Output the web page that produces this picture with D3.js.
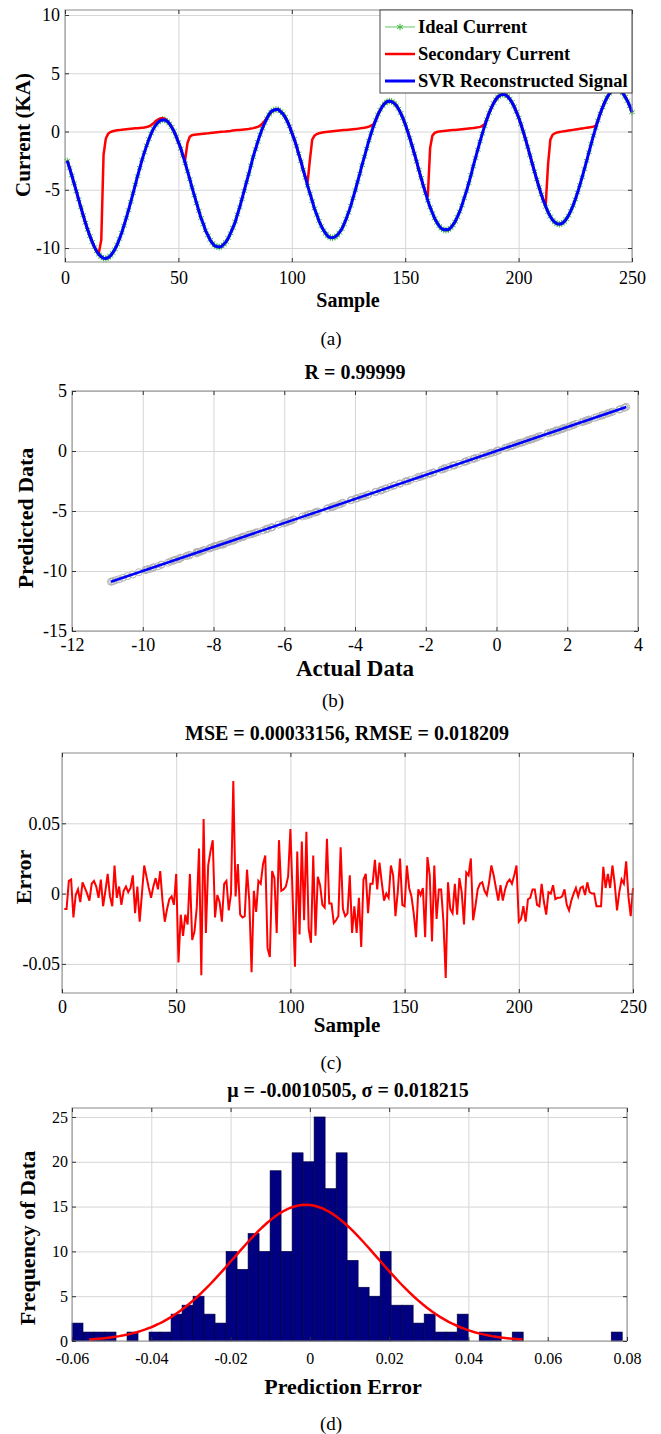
<!DOCTYPE html>
<html>
<head>
<meta charset="utf-8">
<script src="https://cdn.jsdelivr.net/npm/d3@7"></script>
<style>
  body { margin: 0; background: #fff; }
  text { font-family: "Liberation Serif", "Times New Roman", serif; fill: #000; }
</style>
</head>
<body>
<div id="chart"></div>
<script>
// ---- data ----
const idealCurrent = [
  -2.52,-3.13,-3.77,-4.44,-5.13,-5.82,-6.51,-7.18,-7.82,-8.43,
  -8.98,-9.48,-9.92,-10.28,-10.56,-10.76,-10.87,-10.90,-10.83,-10.67,
  -10.43,-10.11,-9.70,-9.22,-8.68,-8.08,-7.43,-6.75,-6.03,-5.30,
  -4.56,-3.83,-3.12,-2.43,-1.79,-1.19,-0.65,-0.17,0.24,0.56,
  0.80,0.95,1.02,0.99,0.88,0.68,0.39,0.03,-0.41,-0.91,
  -1.47,-2.08,-2.73,-3.41,-4.10,-4.79,-5.49,-6.16,-6.81,-7.42,
  -7.98,-8.48,-8.92,-9.29,-9.57,-9.78,-9.89,-9.92,-9.86,-9.70,
  -9.47,-9.14,-8.74,-8.27,-7.73,-7.13,-6.49,-5.81,-5.10,-4.37,
  -3.64,-2.91,-2.20,-1.52,-0.88,-0.28,0.26,0.73,1.13,1.45,
  1.69,1.84,1.90,1.87,1.75,1.55,1.26,0.89,0.45,-0.06,
  -0.62,-1.24,-1.89,-2.56,-3.26,-3.96,-4.65,-5.33,-5.98,-6.60,
  -7.16,-7.67,-8.11,-8.48,-8.77,-8.98,-9.10,-9.13,-9.07,-8.92,
  -8.68,-8.36,-7.97,-7.50,-6.96,-6.37,-5.73,-5.05,-4.34,-3.62,
  -2.89,-2.16,-1.46,-0.78,-0.14,0.46,0.99,1.46,1.86,2.18,
  2.41,2.56,2.61,2.58,2.46,2.25,1.96,1.59,1.14,0.64,
  0.07,-0.55,-1.20,-1.88,-2.58,-3.28,-3.98,-4.66,-5.31,-5.93,
  -6.50,-7.01,-7.45,-7.82,-8.12,-8.33,-8.45,-8.48,-8.43,-8.28,
  -8.05,-7.73,-7.34,-6.87,-6.34,-5.74,-5.11,-4.43,-3.72,-3.00,
  -2.28,-1.56,-0.85,-0.18,0.46,1.05,1.59,2.05,2.45,2.76,
  2.99,3.14,3.19,3.16,3.04,2.83,2.53,2.16,1.71,1.20,
  0.63,0.01,-0.64,-1.33,-2.03,-2.73,-3.43,-4.12,-4.77,-5.39,
  -5.96,-6.47,-6.92,-7.29,-7.59,-7.80,-7.92,-7.96,-7.90,-7.76,
  -7.53,-7.22,-6.82,-6.36,-5.83,-5.24,-4.60,-3.93,-3.23,-2.51,
  -1.78,-1.06,-0.36,0.31,0.95,1.54,2.07,2.53,2.93,3.24,
  3.47,3.61,3.67,3.63,3.50,3.29,2.99,2.62,2.17,1.66
];

const secondaryCurrent = [
  -2.52,-3.13,-3.77,-4.44,-5.13,-5.82,-6.51,-7.18,-7.82,-8.43,
  -8.98,-9.48,-9.92,-10.28,-10.35,-9.30,-2.00,-0.60,-0.20,-0.05,
  0.02,0.06,0.10,0.12,0.15,0.17,0.19,0.21,0.23,0.25,
  0.27,0.28,0.30,0.32,0.34,0.38,0.45,0.55,0.70,0.90,
  1.03,1.12,1.15,1.08,0.92,0.68,0.39,0.03,-0.41,-0.91,
  -1.47,-2.08,-2.40,-1.00,-0.45,-0.32,-0.28,-0.26,-0.24,-0.22,
  -0.20,-0.18,-0.16,-0.13,-0.11,-0.09,-0.07,-0.05,-0.03,-0.01,
  0.01,0.03,0.05,0.08,0.10,0.12,0.14,0.16,0.18,0.20,
  0.22,0.25,0.29,0.34,0.40,0.50,0.66,0.90,1.15,1.45,
  1.69,1.84,1.90,1.87,1.75,1.55,1.26,0.89,0.45,-0.06,
  -0.62,-1.24,-1.89,-2.56,-3.26,-3.96,-4.30,-2.40,-0.70,-0.35,
  -0.22,-0.15,-0.10,-0.07,-0.04,-0.02,0.00,0.02,0.04,0.06,
  0.08,0.10,0.12,0.14,0.16,0.18,0.20,0.22,0.24,0.27,
  0.30,0.33,0.37,0.42,0.50,0.62,0.99,1.46,1.86,2.18,
  2.41,2.56,2.61,2.58,2.46,2.25,1.96,1.59,1.14,0.64,
  0.07,-0.55,-1.20,-1.88,-2.58,-3.28,-3.98,-4.66,-5.31,-5.45,
  -1.40,-0.35,-0.12,-0.04,0.00,0.02,0.04,0.06,0.08,0.10,
  0.12,0.14,0.16,0.18,0.20,0.22,0.24,0.26,0.28,0.30,
  0.33,0.36,0.40,0.47,0.62,1.05,1.59,2.05,2.45,2.76,
  2.99,3.14,3.19,3.16,3.04,2.83,2.53,2.16,1.71,1.20,
  0.63,0.01,-0.64,-1.33,-2.03,-2.73,-3.43,-4.12,-4.77,-5.39,
  -5.96,-6.15,-2.80,-0.70,-0.28,-0.15,-0.08,-0.04,-0.01,0.02,
  0.05,0.08,0.11,0.14,0.17,0.20,0.23,0.26,0.29,0.32,
  0.35,0.38,0.42,0.50,0.95,1.54,2.07,2.53,2.93,3.24,
  3.47,3.61,3.67,3.63,3.50,3.29,2.99,2.62,2.17,1.66
];

// reconstruction error per sample (panel c)
const svrError = [
  -0.011,-0.011,0.009,0.010,-0.017,-0.001,0.003,-0.006,0.008,0.004,
  0.000,-0.005,0.007,0.009,0.005,-0.003,0.010,-0.009,0.002,0.014,
  -0.002,-0.009,0.020,-0.003,0.005,-0.008,0.002,0.005,0.001,0.004,
  0.013,-0.014,0.005,-0.020,0.000,0.020,0.012,0.004,-0.003,0.005,
  0.011,0.003,0.016,-0.005,-0.020,-0.011,-0.004,-0.002,-0.008,0.014,
  -0.049,-0.015,-0.030,-0.015,-0.022,0.014,-0.033,-0.027,-0.010,0.032,
  -0.058,0.053,-0.028,0.020,0.030,0.038,-0.017,-0.001,-0.006,-0.020,
  0.007,0.009,-0.012,0.000,0.080,-0.002,0.021,-0.015,-0.017,-0.016,
  0.017,-0.005,-0.056,0.002,-0.013,0.009,0.007,0.021,0.027,-0.039,
  -0.045,0.016,0.011,-0.028,0.038,0.002,0.003,0.005,0.012,0.046,
  -0.003,-0.052,0.030,-0.029,0.037,-0.019,0.044,-0.025,-0.035,0.027,
  -0.030,0.012,0.006,-0.008,-0.010,0.039,-0.007,-0.007,-0.021,-0.019,
  -0.016,0.033,-0.011,-0.016,-0.014,0.013,-0.028,-0.009,-0.028,-0.003,
  -0.038,0.010,0.014,-0.014,0.007,0.007,0.024,0.003,0.022,0.008,
  -0.005,0.000,-0.003,0.020,0.013,-0.016,0.001,0.025,-0.008,-0.009,
  0.020,0.004,-0.002,-0.014,-0.031,0.003,-0.001,0.004,-0.031,0.026,
  0.013,-0.034,0.020,-0.018,0.003,0.003,-0.020,-0.060,0.008,-0.011,
  -0.014,0.007,-0.015,0.011,0.001,-0.022,0.015,0.013,0.025,-0.019,
  -0.009,0.003,0.007,0.008,0.002,-0.001,0.008,0.020,0.013,0.004,
  -0.005,0.006,-0.005,0.003,0.008,0.010,0.007,0.013,0.020,-0.020,
  -0.018,-0.009,-0.020,-0.004,-0.003,0.003,0.003,-0.008,-0.009,0.007,
  -0.006,-0.015,0.001,0.000,0.006,-0.004,-0.003,-0.003,-0.002,0.003,
  -0.008,-0.012,-0.005,0.000,0.004,-0.002,0.004,0.005,-0.001,0.008,
  0.001,0.000,0.000,-0.009,-0.009,-0.009,0.019,0.004,0.014,0.004,
  0.020,0.007,-0.012,0.001,0.010,0.007,0.023,-0.002,-0.016,0.004
];

// histogram of the error (panel d), 50 bins between histRange
const histCounts = [
  2,1,1,1,0,1,0,1,1,3,
  4,5,3,2,10,8,12,10,19,10,
  21,20,25,17,21,9,6,5,10,4,
  4,2,3,1,1,3,0,1,1,0,
  1,0,0,0,0,0,0,0,0,1
];
const histRange = [-0.0600, 0.0788];
const errMu = -0.0010505;
const errSigma = 0.018215;

const ticksA = { x: [0, 50, 100, 150, 200, 250], y: [-10, -5, 0, 5, 10] };
const ticksB = { x: [-12, -10, -8, -6, -4, -2, 0, 2, 4], y: [-15, -10, -5, 0, 5] };
const ticksC = { x: [0, 50, 100, 150, 200, 250], y: [-0.05, 0, 0.05] };
const ticksD = { x: [-0.06, -0.04, -0.02, 0, 0.02, 0.04, 0.06, 0.08], y: [0, 5, 10, 15, 20, 25] };

const legendItems = ["Ideal Current", "Secondary Current", "SVR Reconstructed Signal"];

// ---- drawing ----
const W = 661, H = 1434;
const gridColor = "#d6d6d6";
const boxColor = "#8a8a8a";
const green = "#3bb53b";
const fmt = d => String(+d.toFixed(4));

const svg = d3.select("#chart").append("svg")
  .attr("width", W).attr("height", H);
svg.append("rect").attr("width", W).attr("height", H).attr("fill", "#fff");

function makePanel(box, xDom, yDom, ticks, padX, padY, tickFont) {
  const x = d3.scaleLinear().domain(xDom).range([box.left, box.right]);
  const y = d3.scaleLinear().domain(yDom).range([box.bottom, box.top]);
  const w = box.right - box.left, h = box.bottom - box.top;

  const grid = svg.append("g");
  grid.append("g").attr("transform", `translate(0,${box.bottom})`)
    .call(d3.axisBottom(x).tickValues(ticks.x).tickSize(-h).tickFormat(""))
    .call(g => g.select(".domain").remove())
    .selectAll("line").attr("stroke", gridColor);
  grid.append("g").attr("transform", `translate(${box.left},0)`)
    .call(d3.axisLeft(y).tickValues(ticks.y).tickSize(-w).tickFormat(""))
    .call(g => g.select(".domain").remove())
    .selectAll("line").attr("stroke", gridColor);

  const marks = svg.append("g");

  function finish() {
    const top = svg.append("g");
    top.append("rect")
      .attr("x", box.left).attr("y", box.top)
      .attr("width", w).attr("height", h)
      .attr("fill", "none").attr("stroke", boxColor);

    const styleAxis = g => {
      g.select(".domain").remove();
      g.selectAll("line").attr("stroke", "#333");
      g.selectAll("text").attr("font-size", tickFont).attr("fill", "#000");
    };
    top.append("g").attr("transform", `translate(0,${box.bottom})`)
      .call(d3.axisBottom(x).tickValues(ticks.x).tickSize(-4).tickPadding(padX).tickFormat(fmt))
      .call(styleAxis);
    top.append("g").attr("transform", `translate(0,${box.top})`)
      .call(d3.axisTop(x).tickValues(ticks.x).tickSize(-4).tickFormat(""))
      .call(styleAxis);
    top.append("g").attr("transform", `translate(${box.left},0)`)
      .call(d3.axisLeft(y).tickValues(ticks.y).tickSize(-4).tickPadding(padY).tickFormat(fmt))
      .call(styleAxis);
    top.append("g").attr("transform", `translate(${box.right},0)`)
      .call(d3.axisRight(y).tickValues(ticks.y).tickSize(-4).tickFormat(""))
      .call(styleAxis);
    return top;
  }
  return { x, y, marks, finish };
}

function label(txt, cx, cy, size, bold, rotate) {
  const t = svg.append("text")
    .attr("text-anchor", "middle")
    .attr("dominant-baseline", "central")
    .attr("font-size", size)
    .attr("font-weight", bold ? "bold" : "normal")
    .text(txt);
  if (rotate) t.attr("transform", `translate(${cx},${cy}) rotate(-90)`);
  else t.attr("x", cx).attr("y", cy);
  return t;
}

const svrSignal = idealCurrent.map((v, i) => v - svrError[i]);
const sampleIdx = idealCurrent.map((v, i) => i + 1);

// ---------- (a) ----------
const pa = makePanel({ left: 65, right: 632, top: 10, bottom: 262 },
  [0, 250], [-11.2, 10.43], ticksA, 9, 5, 18);

const lineA = d3.line().x((d, i) => pa.x(sampleIdx[i])).y(d => pa.y(d));
pa.marks.append("path").datum(idealCurrent).attr("d", lineA)
  .attr("fill", "none").attr("stroke", green).attr("stroke-width", 0.6);
const star = d3.symbol(d3.symbolAsterisk).size(30);
pa.marks.append("g").selectAll("path").data(idealCurrent).join("path")
  .attr("d", star)
  .attr("transform", (d, i) => `translate(${pa.x(sampleIdx[i])},${pa.y(d)})`)
  .attr("fill", "none").attr("stroke", green).attr("stroke-width", 0.9);
pa.marks.append("path").datum(secondaryCurrent).attr("d", lineA)
  .attr("fill", "none").attr("stroke", "#ff0000").attr("stroke-width", 2.5);
pa.marks.append("path").datum(svrSignal).attr("d", lineA)
  .attr("fill", "none").attr("stroke", "#0000ff").attr("stroke-width", 3);
pa.finish();

// legend
const lg = svg.append("g");
lg.append("rect").attr("x", 380).attr("y", 10).attr("width", 252).attr("height", 83)
  .attr("fill", "#fff").attr("stroke", "#444");
const legendStyle = [
  { color: green, width: 0.8, marker: true },
  { color: "#ff0000", width: 2.5 },
  { color: "#0000ff", width: 3 }
];
legendItems.forEach((name, i) => {
  const yy = 27 + i * 27;
  const s = legendStyle[i];
  lg.append("line").attr("x1", 385).attr("x2", 415).attr("y1", yy).attr("y2", yy)
    .attr("stroke", s.color).attr("stroke-width", s.width);
  if (s.marker) {
    lg.append("path").attr("d", d3.symbol(d3.symbolAsterisk).size(30))
      .attr("transform", `translate(400,${yy})`)
      .attr("fill", "none").attr("stroke", s.color).attr("stroke-width", 1);
  }
  lg.append("text").attr("x", 418).attr("y", yy).attr("dominant-baseline", "central")
    .attr("font-size", 18.5).attr("font-weight", "bold").text(name);
});

label("Current (KA)", 23, 135, 21, true, true);
label("Sample", 348, 300, 20, true);
label("(a)", 331, 338, 19, false);

// ---------- (b) ----------
const pb = makePanel({ left: 72, right: 638, top: 391, bottom: 631 },
  [-12, 4], [-15, 5], ticksB, 7, 5, 18);
pb.marks.append("g").selectAll("circle").data(idealCurrent).join("circle")
  .attr("cx", d => pb.x(d))
  .attr("cy", (d, i) => pb.y(svrSignal[i]))
  .attr("r", 3.5)
  .attr("fill", "none").attr("stroke", "#b4b4b4").attr("stroke-width", 1);
const ext = d3.extent(idealCurrent);
pb.marks.append("line")
  .attr("x1", pb.x(ext[0])).attr("y1", pb.y(ext[0]))
  .attr("x2", pb.x(ext[1])).attr("y2", pb.y(ext[1]))
  .attr("stroke", "#0000ff").attr("stroke-width", 2.5);
pb.finish();

label("R = 0.99999", 355, 372, 20, true);
label("Predicted Data", 25, 518, 22, true, true);
label("Actual Data", 355, 668, 23, true);
label("(b)", 333, 700, 19, false);

// ---------- (c) ----------
const pc = makePanel({ left: 62, right: 633, top: 753, bottom: 993 },
  [0, 250], [-0.0707, 0.1], ticksC, 7, 2, 18);
pc.marks.append("path").datum(svrError)
  .attr("d", d3.line().x((d, i) => pc.x(sampleIdx[i])).y(d => pc.y(d)))
  .attr("fill", "none").attr("stroke", "#ff0000").attr("stroke-width", 2);
pc.finish();

label("MSE = 0.00033156, RMSE = 0.018209", 347, 733, 20, true);
label("Error", 23, 877, 22, true, true);
label("Sample", 347, 1025, 21, true);
label("(c)", 331, 1062, 19, false);

// ---------- (d) ----------
const pd = makePanel({ left: 72, right: 627, top: 1108, bottom: 1341 },
  [-0.06, 0.08], [0, 26], ticksD, 12, 4, 16);
const binW = (histRange[1] - histRange[0]) / histCounts.length;
pd.marks.append("g").selectAll("rect").data(histCounts).join("rect")
  .attr("x", (d, i) => pd.x(histRange[0] + i * binW))
  .attr("width", pd.x(binW) - pd.x(0))
  .attr("y", d => pd.y(d))
  .attr("height", d => pd.y(0) - pd.y(d))
  .attr("fill", "#000080")
  .attr("stroke", "#00003a").attr("stroke-width", d => d > 0 ? 0.6 : 0);

// fitted normal curve (mu +/- 3 sigma, scaled to counts)
const nTotal = d3.sum(histCounts);
const fitX = d3.range(101).map(k => errMu - 3 * errSigma + k * 6 * errSigma / 100);
const fitY = fitX.map(v => nTotal * binW / (errSigma * Math.sqrt(2 * Math.PI)) *
  Math.exp(-0.5 * ((v - errMu) / errSigma) ** 2));
pd.marks.append("path").datum(fitX)
  .attr("d", d3.line().x(d => pd.x(d)).y((d, i) => pd.y(fitY[i])))
  .attr("fill", "none").attr("stroke", "#ff0000").attr("stroke-width", 2.5);
pd.finish();

label("\u03bc = -0.0010505, \u03c3 = 0.018215", 348, 1090, 20, true);
label("Frequency of Data", 27, 1238, 22, true, true);
label("Prediction Error", 343, 1386, 22, true);
label("(d)", 331, 1423, 19, false);
</script>
</body>
</html>
